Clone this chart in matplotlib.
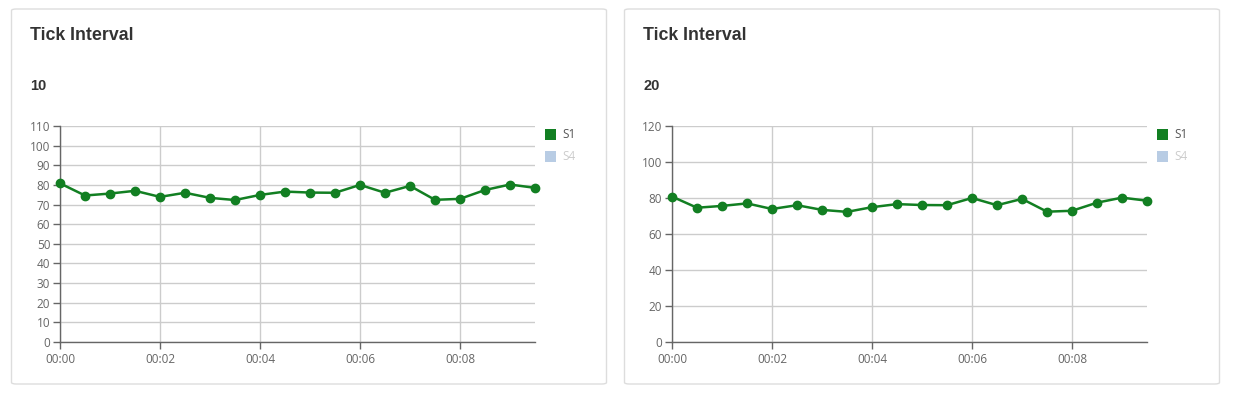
import matplotlib
matplotlib.use("Agg")
import matplotlib.pyplot as plt
from matplotlib.patches import FancyBboxPatch, Rectangle

# data (hh:mm:ss)
times = ["00:00:00", "00:00:30", "00:01:00", "00:01:30", "00:02:00", "00:02:30",
         "00:03:00", "00:03:30", "00:04:00", "00:04:30", "00:05:00", "00:05:30",
         "00:06:00", "00:06:30", "00:07:00", "00:07:30", "00:08:00", "00:08:30",
         "00:09:00", "00:09:30"]
s1 = [80.8, 74.6, 75.6, 77.0, 73.9, 76.0, 73.4, 72.3, 74.9, 76.6,
      76.1, 76.0, 80.0, 76.0, 79.5, 72.4, 72.9, 77.4, 80.2, 78.5]
xtick_labels = ["00:00", "00:02", "00:04", "00:06", "00:08"]  # hh:mm
panel_titles = ["Tick Interval", "Tick Interval"]
intervals = [10, 20]
y_max = [110, 120]

def to_min(t):
    parts = [int(p) for p in t.split(":")]
    if len(parts) == 3:
        return parts[0] * 60 + parts[1] + parts[2] / 60
    return parts[0] * 60 + parts[1]

minutes = [to_min(t) for t in times]
xticks = [to_min(t) for t in xtick_labels]

W, H = 1237, 394
fig = plt.figure(figsize=(W / 100, H / 100), dpi=100)
fig.patch.set_facecolor("white")

green = "#127f22"
grid_c = "#cccccc"
axis_c = "#666666"
text_c = "#666666"

def fx(px):
    return px / W

def fy(py):
    return 1 - py / H

panel_left = [11, 624]
for i in range(2):
    x0 = panel_left[i]
    box = FancyBboxPatch((fx(x0 + 0.5), fy(384)), fx(595), (375) / H,
                         boxstyle="round,pad=0,rounding_size=0.004",
                         transform=fig.transFigure, facecolor="none",
                         edgecolor="#dddddd", linewidth=1, zorder=-1)
    fig.patches.append(box)
    fig.text(fx(x0 + 19), fy(35), panel_titles[i], fontsize=12.8, fontweight="bold",
             family="Liberation Sans", color="#333333", va="center", ha="left")
    fig.text(fx(x0 + 19), fy(86), str(intervals[i]), fontsize=10.5, fontweight="bold",
             family="Liberation Sans", color="#333333", va="center", ha="left")

    ax_l = x0 + 49 if i == 0 else x0 + 48
    ax = fig.add_axes([fx(ax_l), fy(342), fx(475), 216 / H])
    ax.patch.set_alpha(0)
    ax.plot(minutes, s1, color=green, linewidth=1.8, marker="o", markersize=6,
            clip_on=False, zorder=3)
    ax.set_xlim(minutes[0], minutes[-1])
    ax.set_ylim(0, y_max[i])
    ax.set_yticks(range(0, y_max[i] + 1, intervals[i]))
    ax.set_xticks(xticks)
    ax.set_xticklabels(xtick_labels)
    ax.grid(True, color=grid_c, linewidth=1)
    ax.set_axisbelow(True)
    for s in ["top", "right"]:
        ax.spines[s].set_visible(False)
    for s in ["left", "bottom"]:
        ax.spines[s].set_color(axis_c)
        ax.spines[s].set_linewidth(1)
    ax.tick_params(axis="both", colors=axis_c, labelcolor=text_c, labelsize=8.5,
                   length=5, width=1)
    ax.tick_params(axis="y", pad=2)
    ax.tick_params(axis="x", pad=3)
    for lbl in ax.get_xticklabels() + ax.get_yticklabels():
        lbl.set_family("Open Sans")

    # legend
    lx = ax_l + 485
    fig.patches.append(Rectangle((fx(lx), fy(140)), fx(11), 11 / H,
                                 transform=fig.transFigure, facecolor=green,
                                 edgecolor="none"))
    fig.text(fx(lx + 17), fy(134), "S1", fontsize=8.5, family="Open Sans",
             color="#555555", va="center")
    fig.patches.append(Rectangle((fx(lx), fy(162)), fx(11), 11 / H,
                                 transform=fig.transFigure, facecolor="#b8cce4",
                                 edgecolor="none"))
    fig.text(fx(lx + 17), fy(156), "S4", fontsize=8.5, family="Open Sans",
             color="#cccccc", va="center")

fig.savefig("out.png", dpi=100, facecolor="white")
